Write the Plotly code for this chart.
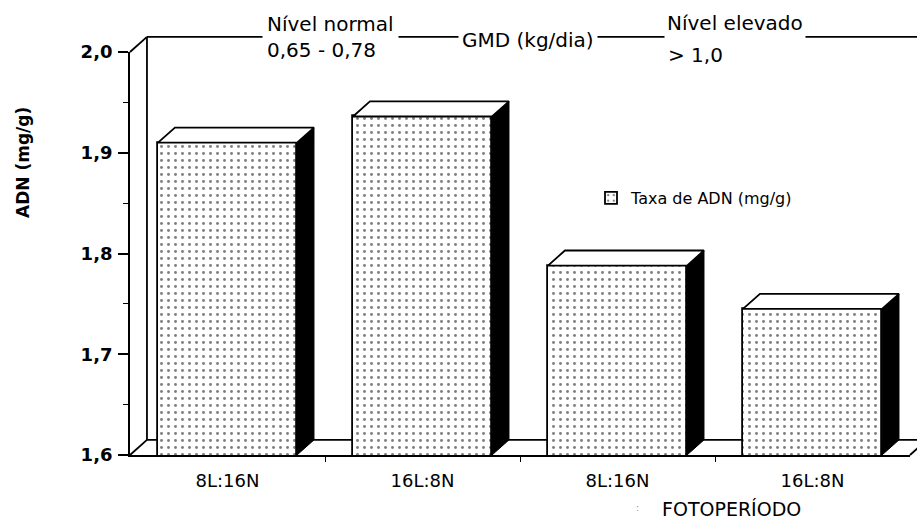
import plotly.graph_objects as go

# ---------------- data ----------------
categories = ["8L:16N", "16L:8N", "8L:16N", "16L:8N"]
adn_values = [1.91, 1.936, 1.788, 1.745]
y_tick_values = [1.6, 1.7, 1.8, 1.9, 2.0]
y_tick_labels = ["1,6", "1,7", "1,8", "1,9", "2,0"]
y_minor_values = [1.65, 1.75, 1.85, 1.95]
series_name = "Taxa de ADN (mg/g)"

# ---------------- layout constants ----------------
W, H = 917, 524
ML, MR, MT, MB = 130, 7, 52, 69
PW, PH = W - ML - MR, H - MT - MB
XR = [-0.5, len(categories) - 0.5]
YR = [1.6, 2.0]
BAR_W = 0.713
DX = 0.087   # 3-D depth (x data units)
DY = 0.015   # 3-D depth (y data units)
FONT = "DejaVu Sans"
LW = 1.8

xpos = list(range(len(categories)))
boundaries = [i + 0.5 for i in xpos[:-1]]


def px_x(p):  # pixel -> paper (for text placement)
    return (p - ML) / PW


def px_y(p):
    return (H - MB - p) / PH


def dom_x(v):
    return (v - XR[0]) / (XR[1] - XR[0])


def dom_y(v):
    return (v - YR[0]) / (YR[1] - YR[0])


fig = go.Figure()

fig.add_trace(go.Bar(
    x=xpos, y=adn_values, width=BAR_W, name=series_name,
    marker=dict(color="white", line=dict(color="black", width=LW),
                pattern=dict(shape=".", fgcolor="black", bgcolor="white",
                             size=7, solidity=0.14)),
    showlegend=True, hoverinfo="skip"))

# 3-D faces of each bar, built from the values
for xi, v in zip(xpos, adn_values):
    xl, xr = xi - BAR_W / 2, xi + BAR_W / 2
    fig.add_trace(go.Scatter(
        x=[xr, xr, xr + DX, xr + DX, xr],
        y=[YR[0], v, v + DY, YR[0] + DY, YR[0]],
        fill="toself", fillcolor="black", mode="lines",
        line=dict(color="black", width=1), showlegend=False, hoverinfo="skip"))
    fig.add_trace(go.Scatter(
        x=[xl, xr, xr + DX, xl + DX, xl],
        y=[v, v, v + DY, v + DY, v],
        fill="toself", fillcolor="white", mode="lines",
        line=dict(color="black", width=LW), showlegend=False, hoverinfo="skip"))


def seg(x0, y0, x1, y1):
    fig.add_shape(type="line", xref="x domain", yref="y domain",
                  x0=dom_x(x0), y0=dom_y(y0), x1=dom_x(x1), y1=dom_y(y1),
                  line=dict(color="black", width=LW), layer="below")


# back wall / floor frame
seg(XR[0] + DX, YR[0] + DY, XR[0] + DX, YR[1] + DY)
seg(XR[0], YR[1], XR[0] + DX, YR[1] + DY)
seg(XR[0], YR[0], XR[0] + DX, YR[0] + DY)
seg(XR[0] + DX, YR[0] + DY, XR[1] + DX, YR[0] + DY)
seg(XR[1], YR[0], XR[1] + DX, YR[0] + DY)
seg(XR[0] + DX, YR[1] + DY, XR[1] + 0.3, YR[1] + DY)

ann = []
ann.append(dict(text="Nível normal<br>0,65 - 0,78", x=px_x(262), y=px_y(37),
                xanchor="left", yanchor="middle", align="left",
                font=dict(size=20), bgcolor="white", borderpad=4))
ann.append(dict(text="GMD (kg/dia)", x=px_x(528), y=px_y(40),
                xanchor="center", yanchor="middle",
                font=dict(size=20), bgcolor="white", borderpad=3))
ann.append(dict(text="Nível elevado", x=px_x(664), y=px_y(8),
                xanchor="left", yanchor="top", valign="top", height=38,
                font=dict(size=20), bgcolor="white", borderpad=2))
ann.append(dict(text="> 1,0", x=px_x(666), y=px_y(55),
                xanchor="left", yanchor="middle",
                font=dict(size=20)))
ann.append(dict(text="FOTOPERÍODO", x=px_x(731), y=px_y(509),
                xanchor="center", yanchor="middle", font=dict(size=19)))
ann.append(dict(text=":", x=px_x(637), y=px_y(508),
                xanchor="center", yanchor="middle", font=dict(size=9, color="#888")))
ann.append(dict(text="<b>ADN (mg/g)</b>", x=px_x(23), y=px_y(162), textangle=-90,
                xanchor="center", yanchor="middle", font=dict(size=17)))
for a in ann:
    a.update(xref="paper", yref="paper", showarrow=False)

fig.update_layout(
    width=W, height=H,
    margin=dict(l=ML, r=MR, t=MT, b=MB, autoexpand=False),
    paper_bgcolor="white", plot_bgcolor="rgba(0,0,0,0)",
    font=dict(family=FONT, color="black"),
    showlegend=True,
    legend=dict(x=px_x(591), y=px_y(198), xanchor="left", yanchor="middle",
                bgcolor="rgba(0,0,0,0)", font=dict(size=16)),
    annotations=ann,
    bargap=0,
    xaxis=dict(range=XR, showline=True, linecolor="black", linewidth=LW,
               tickmode="array", tickvals=xpos, ticktext=categories, ticks="",
               minor=dict(tickmode="array", tickvals=boundaries, ticks="outside",
                          ticklen=5, tickwidth=1.2, tickcolor="black", showgrid=False),
               showgrid=False, zeroline=False, tickfont=dict(size=18),
               ticklabelstandoff=8),
    yaxis=dict(range=YR, showline=True, linecolor="black", linewidth=LW,
               tickmode="array", tickvals=y_tick_values, ticktext=y_tick_labels,
               ticks="outside", ticklen=10, tickwidth=LW, tickcolor="black",
               minor=dict(tickmode="array", tickvals=y_minor_values, ticks="outside",
                          ticklen=5, tickwidth=1.2, tickcolor="black", showgrid=False),
               showgrid=False, zeroline=False,
               tickfont=dict(size=18, weight="bold"),
               ticklabelstandoff=2),
)

fig.write_html("out.html", config={"displayModeBar": False},
               post_script="document.body.style.margin='0px';"
                           "document.body.style.padding='0px';")
